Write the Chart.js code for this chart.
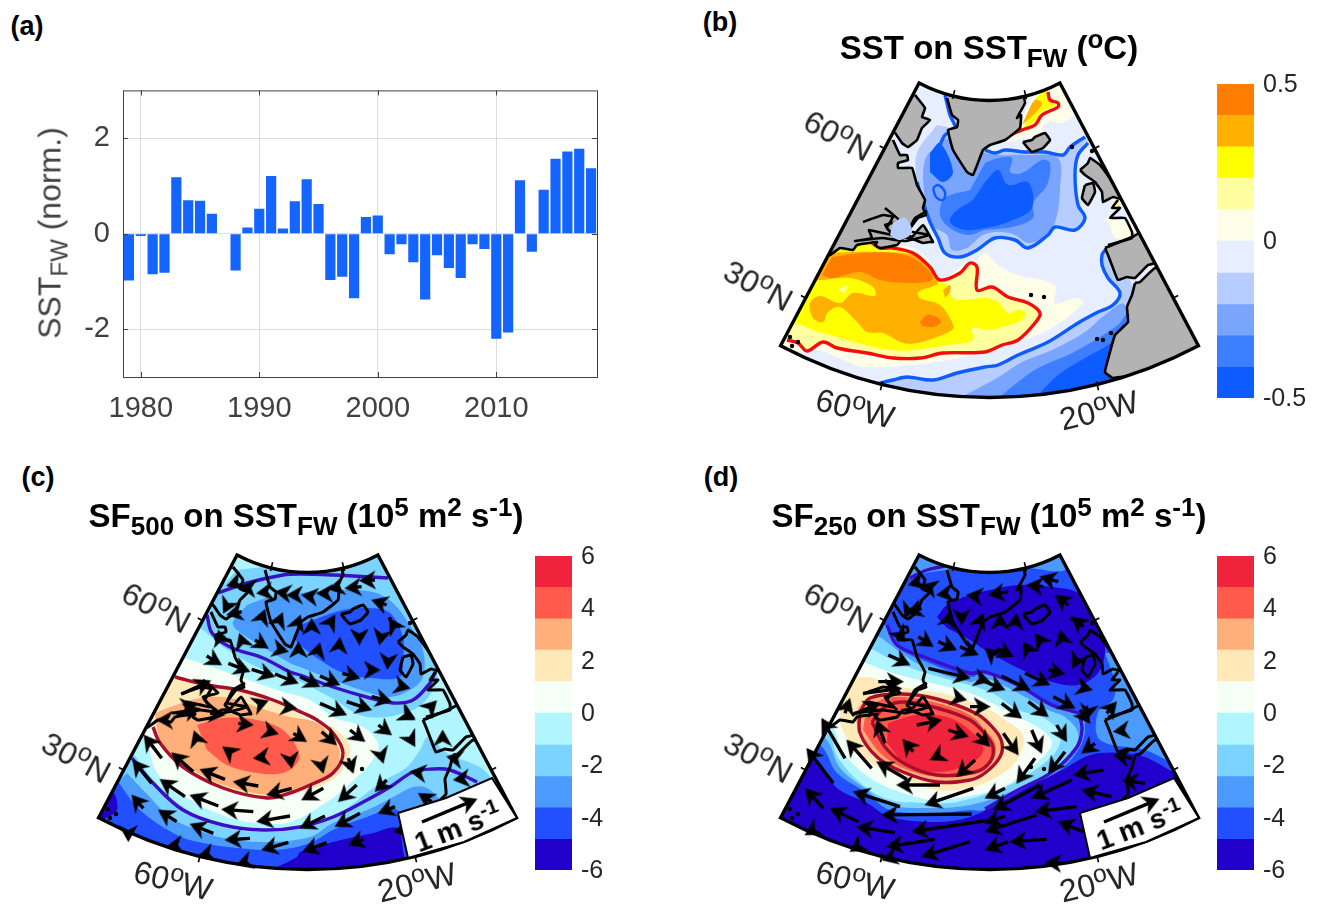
<!DOCTYPE html>
<html lang="en">
<head>
<meta charset="UTF-8">
<title>SST fingerprint</title>
<script src="https://cdn.jsdelivr.net/npm/chart.js"></script>
<style>
  body { margin: 0; background: #fff; font-family: "Liberation Sans", Arial, sans-serif; }
  #page { position: relative; width: 1319px; height: 912px; overflow: hidden; }
  canvas { position: absolute; }
  .txt { position: absolute; white-space: nowrap; color: #000; transform: translate(-50%, -50%); }
  .panel { font-weight: bold; font-size: 27px; }
  .title { font-weight: bold; font-size: 33px; }
  .title sub { font-size: 26px; vertical-align: -8px; line-height: 0; }
  .title sup { font-size: 26px; vertical-align: 11px; line-height: 0; }
  .maplab { font-size: 32px; color: #262626; }
  .maplab sup { font-size: 25px; vertical-align: 11px; line-height: 0; }
  .scale { font-weight: bold; font-size: 28px; }
  .scale sup { font-size: 21px; vertical-align: 10px; line-height: 0; }
  .ylab { font-size: 32px; color: #404040; }
  .ylab sub { font-size: 24px; vertical-align: -7px; line-height: 0; }
</style>
</head>
<body>
<div id="page"></div>
<script>
// ---- panel (a) ----
var years = [1979,1980,1981,1982,1983,1984,1985,1986,1987,1988,1989,1990,1991,1992,1993,1994,1995,1996,1997,1998,
             1999,2000,2001,2002,2003,2004,2005,2006,2007,2008,2009,2010,2011,2012,2013,2014,2015,2016,2017,2018];
var sstFw = [-0.98,-0.05,-0.85,-0.82,1.18,0.70,0.69,0.42,0,-0.77,0.13,0.52,1.21,0.11,0.68,1.14,0.62,-0.97,-0.90,-1.35,
             0.35,0.38,-0.43,-0.22,-0.60,-1.38,-0.45,-0.72,-0.93,-0.22,-0.32,-2.20,-2.07,1.12,-0.38,0.92,1.57,1.72,1.78,1.37];
var sstTicks = [-2, 0, 2];

// ---- colour bars ----
var sstColors = ['#0d5cff','#3d7dff','#7aa5ff','#b7cdff','#e6eeff','#fdfde8','#ffffa0','#ffff00','#ffb000','#ff7d00'];
var sstBarTicks = [-0.5, 0, 0.5];
var sfColors = ['#2200cc','#2350ff','#4b9bff','#7bd3ff','#b0f5ff','#f5fff5','#ffe9b8','#ffb07a','#ff5a4b','#f0233c'];
var sfBarTicks = [-6, -4, -2, 0, 2, 4, 6];

// ---- map frame, all map data below is in the same projected units ----
var mapApex = [989.5, -50.5];
var mapR = [151, 448];
var mapHalfAngle = 27.8;
var latTickR = [225, 394];      // 60N, 30N
var lonTickA = [-13.9, 13.9];   // 60W, 20W

// ---- coast and land ----
var greenland = [[947,98],[952,115],[958,120],[957,127],[948,130],[953,150],[967,172],[973,175],[983,150],[990,145],[1005,140],[1020,128],[1021,115],[1017,118],[1025,103],[1023,92],[1023,80],[990,60],[947,70]];
var baffin = [[915,95],[925,108],[922,117],[930,120],[922,128],[917,140],[908,147],[902,143],[895,133],[870,120],[900,70]];
var canada = [[893,140],[900,155],[907,155],[908,160],[898,163],[898,168],[912,168],[917,185],[925,200],[923,208],[926,215],[918,218],[907,233],[912,237],[923,225],[933,242],[930,242],[923,243],[910,238],[903,238],[897,245],[880,248],[875,245],[877,242],[857,245],[853,250],[840,248],[830,255],[800,260],[860,130]];
var hudson = [[863,222],[883,215],[893,217],[887,228],[897,238]];
var gulfCoast = [[885,208],[900,221],[885,225],[892,235],[869,230],[872,238],[855,241],[882,238],[905,241],[929,235],[909,231],[915,218],[927,211]];
var iceland = [[1023,142],[1032,140],[1035,137],[1045,133],[1050,140],[1043,148],[1032,152],[1027,147],[1023,142]];
var ireland = [[1085,185],[1093,183],[1095,192],[1088,205],[1082,198],[1085,185]];
var britain = [[1080,170],[1088,163],[1090,158],[1100,165],[1125,200],[1113,197],[1103,202],[1102,192],[1095,182],[1085,175],[1080,170]];
var france = [[1118,200],[1112,208],[1120,208],[1110,218],[1125,218],[1132,232],[1132,238],[1108,245]];
var iberia = [[1105,248],[1132,237],[1142,232],[1158,262],[1148,265],[1135,278],[1127,277],[1118,280],[1113,268],[1108,255],[1105,248]];
var africa = [[1135,283],[1132,295],[1127,307],[1128,322],[1115,335],[1110,352],[1105,372],[1113,378],[1210,360],[1175,275],[1155,268],[1140,282],[1135,283]];
var islands = [[1031,295],[1044,297],[1097,339],[1103,340],[1111,333],[1072,147],[1092,151],[790,337],[798,342],[792,346]];

// ---- SST on SST_FW ----
var sstLightWest = [[937,125],[917,153],[917,182],[923,202],[930,222],[938,238],[945,253],[960,257],[977,250],[990,238],[1015,240],[1028,248],[1048,235],[1055,227],[1075,230],[1085,218],[1078,205],[1075,175],[1078,155],[1088,143],[1085,137],[1070,147],[1063,155],[1045,152],[1025,152],[1005,150],[995,153],[985,150],[975,140],[960,130]];
var sstMidWest = [[943,140],[925,160],[925,200],[932,225],[947,235],[952,250],[967,248],[983,235],[1000,232],[1015,235],[1028,243],[1042,238],[1055,222],[1060,190],[1058,158],[1025,155],[1002,155],[985,153],[975,145],[960,135]];
var sstDeepWest = [[985,163],[998,158],[1012,158],[1010,172],[1022,173],[1042,160],[1050,163],[1047,185],[1033,203],[1033,218],[1012,227],[985,230],[968,235],[950,228],[940,215],[945,198],[970,190]];
var sstCoreWest = [[985,182],[998,170],[1008,185],[1028,182],[1032,208],[1008,222],[985,228],[965,230],[950,222],[955,212],[973,200]];
var sstLabrador = [[930,153],[940,143],[953,172],[943,182],[930,172]];
var sstGulf = [[893,222],[905,218],[912,232],[900,240],[890,235]];
var sstRing = [[933,188],[938,185],[945,192],[943,200],[936,197],[933,188]];
var sstWestCoast = [[945,95],[950,115],[955,128],[945,135],[938,150]];
var sstLightSouth = [[873,385],[893,380],[907,377],[933,380],[957,373],[985,367],[998,365],[1018,355],[1048,342],[1078,323],[1098,312],[1113,305],[1120,293],[1108,278],[1102,265],[1102,255],[1105,250],[1130,280],[1160,400],[1100,425],[860,425]];
var sstMidSouth = [[965,395],[990,382],[1002,375],[1022,362],[1052,350],[1085,332],[1105,315],[1125,305],[1160,400],[965,425]];
var sstDeepSouth = [[1002,395],[1018,382],[1038,368],[1068,355],[1092,342],[1118,325],[1128,315],[1160,400],[1002,425]];
var sstCoreSouth = [[1038,395],[1058,375],[1085,358],[1112,342],[1125,325],[1160,400],[1038,425]];
var sstPale = [[860,367],[890,367],[937,362],[985,352],[1018,342],[1052,328],[1083,303],[1078,298],[1055,303],[1055,285],[1018,275],[998,265],[985,253],[977,260],[967,262],[947,277],[940,278],[933,265],[920,252],[903,245],[880,247],[853,245],[837,248],[828,253],[765,340],[790,350],[820,350]];
var sstPaleNorth = [[1005,143],[1018,128],[1028,105],[1035,95],[1060,83],[1075,112],[1062,123],[1050,122],[1042,128],[1048,138],[1025,138]];
var sstPaleEurope = [[1105,218],[1132,223],[1133,235],[1125,238],[1115,238],[1110,225]];
var sstLemonEurope = [[1112,203],[1120,200],[1118,208],[1110,210]];
var sstRed = [[787,340],[798,343],[807,351],[823,342],[837,348],[867,353],[893,358],[920,358],[943,353],[985,352],[1002,345],[1018,340],[1035,323],[1040,313],[1028,303],[1008,297],[995,288],[990,287],[977,290],[977,267],[970,263],[960,273],[940,280],[930,267],[913,253],[893,248],[880,248],[872,243]];
var sstLemon = sstRed.concat([[855,243],[837,248],[827,252],[770,330]]);
var sstYellow = [[797,323],[813,330],[837,337],[857,343],[890,350],[913,350],[947,345],[973,340],[972,328],[990,330],[1002,327],[1022,320],[1025,313],[1018,310],[1008,313],[998,302],[985,298],[960,300],[952,297],[947,285],[940,282],[930,268],[913,253],[893,250],[880,250],[870,242],[855,243],[837,248],[827,252],[770,340]];
var sstAmber = [[828,253],[853,252],[880,252],[913,255],[930,268],[938,283],[918,292],[920,298],[940,305],[952,322],[953,329],[937,337],[917,343],[903,343],[883,333],[867,332],[858,323],[840,307],[828,312],[823,322],[813,318],[810,303],[820,296],[840,303],[853,293],[875,296],[873,287],[850,278],[813,280],[820,272]];
var sstOrange = [[832,257],[863,253],[893,253],[913,258],[930,272],[932,280],[910,283],[880,280],[860,272],[833,278],[822,275]];
var sstOrangeBlob = [[920,322],[927,315],[937,317],[941,322],[933,327],[922,326]];
var sstLemonPatch = [[838,290],[848,285],[845,293]];
var sstAmberPatch = [[943,290],[950,285],[950,292],[945,298]];
var sstRedNorth = [[1005,137],[1022,130],[1035,125],[1042,115],[1058,107],[1058,103],[1050,100],[1048,92]];
var sstYellowNorth = [[1010,135],[1025,125],[1035,100],[1047,90],[1049,100],[1055,105],[1042,112],[1034,122],[1020,130]];
var sstAmberNorth = [[1022,125],[1028,112],[1035,100],[1042,103],[1038,110],[1030,118]];
var sstBlueLine1 = [[985,150],[995,153],[1005,150],[1025,152],[1045,152],[1063,155],[1070,147],[1085,137]];
var sstBlueLine2 = [[1088,143],[1078,155],[1075,175],[1078,205],[1085,218],[1075,230],[1055,227],[1048,235],[1028,248],[1015,240],[995,238],[977,250],[960,257],[945,253],[938,238],[930,222],[923,202],[917,182]];
var sstBlueLine3 = [[873,385],[893,380],[907,377],[933,380],[957,373],[985,367],[998,365],[1018,355],[1048,342],[1078,323],[1098,312],[1113,305],[1120,293],[1108,278],[1102,265],[1102,255],[1105,250]];

// ---- SF500 on SST_FW ----
var c500Sky = [[919,98],[952,95],[982,98],[1015,90],[1045,86],[1062,80],[1090,130],[1119,201],[1113,221],[1095,238],[1049,245],[1012,225],[972,205],[939,195],[905,175],[885,158],[870,150]];
var c500Mid = [[929,133],[915,150],[919,158],[945,175],[972,191],[982,195],[1015,208],[1052,221],[1072,225],[1092,218],[1105,205],[1105,178],[1095,158],[1075,131],[1055,120],[1025,118],[982,121],[950,125]];
var c500Royal = [[982,153],[1025,138],[1052,136],[1072,141],[1085,165],[1085,188],[1082,205],[1052,206],[1025,201],[1002,188],[982,173],[975,165]];
var c500White = [[867,186],[889,193],[922,205],[959,218],[992,228],[1015,245],[1045,255],[1060,271],[1057,285],[1039,305],[1012,328],[972,350],[939,351],[909,345],[869,326],[839,301],[825,263],[790,250]];
var c500Cream = [[857,203],[889,213],[922,218],[955,228],[992,248],[1015,255],[1032,275],[1025,298],[1005,313],[972,323],[945,326],[905,316],[865,295],[842,271],[835,251],[835,238],[810,235]];
var c500Salmon = [[852,235],[882,226],[912,226],[939,235],[972,245],[999,251],[1015,268],[1022,281],[1014,301],[992,315],[972,320],[949,323],[905,313],[872,296],[845,275],[839,255],[837,241]];
var c500Orange = [[879,253],[905,246],[939,248],[965,258],[980,278],[980,290],[965,301],[939,301],[909,293],[889,278]];
var c500SkySouth = [[815,281],[835,308],[865,335],[905,355],[945,360],[992,355],[1022,341],[1062,311],[1089,295],[1102,278],[1110,265],[1129,281],[1169,301],[1180,340],[1100,425],[800,425],[770,340]];
var c500MidSouth = [[809,301],[825,318],[852,345],[872,355],[905,366],[945,370],[992,365],[1015,351],[1049,338],[1079,323],[1095,315],[1109,316],[1122,328],[1200,425],[800,425],[770,340]];
var c500RoyalSouth = [[799,308],[822,338],[859,363],[885,371],[919,376],[959,378],[992,371],[1015,358],[1049,345],[1079,338],[1150,400],[1100,425],[800,425],[770,340]];
var c500DarkSouth = [[959,395],[979,385],[982,380],[1015,370],[1055,361],[1079,356],[1085,378],[1090,425],[950,425]];
var c500DarkCorner = [[780,345],[795,321],[799,338],[785,348]];
var c500Red = [[857,205],[889,213],[922,218],[955,228],[985,241],[999,248],[1015,261],[1025,281],[1015,301],[992,313],[972,321],[949,326],[905,316],[865,295],[842,271],[835,255]];
var c500Blue1 = [[900,121],[929,111],[965,103],[982,102],[1015,103],[1070,106]];
var c500Blue2 = [[889,143],[894,161],[912,175],[945,186],[972,200],[982,203],[1015,215],[1052,226],[1075,231],[1095,228],[1112,211],[1117,200]];
var c500Blue3 = [[814,286],[835,311],[865,338],[905,353],[945,358],[982,355],[1015,345],[1049,328],[1072,315],[1095,300],[1115,297],[1132,298],[1159,310]];

// ---- SF250 on SST_FW ----
var c250Royal = [[900,60],[1080,60],[1175,300],[1173,300],[1145,285],[1122,281],[1100,281],[1085,285],[1062,298],[1028,315],[1005,328],[970,345],[937,350],[890,345],[867,331],[837,316],[815,286],[760,260]];
var c250DarkNorth = [[937,145],[947,133],[970,123],[990,118],[1018,113],[1052,115],[1078,121],[1097,145],[1105,178],[1098,201],[1078,213],[1052,210],[1018,196],[985,178],[970,168],[947,156]];
var c250MidNw = [[918,82],[950,96],[925,101],[910,106],[900,100]];
var c250MidNe = [[1028,96],[1065,98],[1060,80],[1040,80]];
var c250MidEast = [[1105,181],[1115,211],[1113,228],[1098,240],[1100,268],[1145,278],[1170,290],[1190,300],[1140,180]];
var c250Mid = [[885,153],[897,175],[927,190],[970,205],[985,200],[1018,215],[1052,235],[1082,243],[1085,248],[1082,271],[1060,298],[1018,318],[985,338],[970,338],[937,341],[890,338],[867,321],[837,301],[820,273],[780,260],[870,150]];
var c250Sky = [[880,165],[920,193],[970,210],[985,206],[1018,221],[1048,238],[1065,245],[1078,261],[1073,278],[1048,301],[1008,321],[970,333],[933,336],[890,333],[867,318],[840,296],[825,266],[790,255],[860,160]];
var c250Cyan = [[870,176],[903,193],[943,206],[990,220],[1018,238],[1042,245],[1060,261],[1057,278],[1035,298],[1005,315],[957,330],[927,331],[890,328],[863,313],[838,286],[828,261],[800,250],[850,170]];
var c250White = [[863,190],[893,201],[927,210],[970,221],[1018,245],[1042,258],[1052,271],[1043,285],[1023,301],[1002,316],[937,328],[903,321],[870,306],[843,280],[833,256],[810,240],[850,185]];
var c250Cream = [[870,205],[903,215],[950,223],[990,238],[1005,248],[1022,261],[1023,275],[1013,293],[995,306],[970,316],[937,318],[903,306],[870,290],[850,271],[840,251],[840,241],[835,230],[845,205]];
var c250Salmon = [[858,235],[870,225],[903,221],[937,226],[977,241],[995,258],[1002,271],[1000,285],[985,301],[970,308],[937,310],[903,300],[877,285],[860,261],[855,245]];
var c250Orange = [[865,245],[880,228],[903,225],[937,231],[970,243],[985,258],[995,271],[995,283],[985,298],[970,303],[937,305],[903,296],[880,281],[863,258]];
var c250Crimson = [[888,251],[917,243],[950,246],[977,265],[983,280],[967,293],[937,300],[907,293],[887,271]];
var c250RedOuter = [[860,240],[870,226],[903,222],[937,227],[977,242],[995,258],[1002,271],[1000,285],[985,301],[970,308],[937,310],[903,300],[877,285],[860,261],[860,240]];
var c250RedInner = [[872,250],[885,235],[905,230],[937,236],[970,248],[985,262],[993,275],[990,290],[975,300],[937,303],[905,292],[885,275],[872,250]];
var c250Blue1 = [[910,106],[927,98],[945,94]];
var c250Blue2 = [[887,153],[897,173],[927,186],[970,201],[985,200],[1018,213],[1052,233],[1078,241],[1080,245],[1082,258],[1077,275],[1052,300],[1018,318],[985,337]];

var vecC_nw = [[450,95,410,108],[490,115,450,110],[535,125,500,130],[590,130,555,125],[630,135,590,135],[455,185,410,195],[410,170,400,190],[515,205,525,178],[565,218,578,188],[620,228,632,195],[395,275,385,240],[460,285,448,250],[495,270,535,295],[555,295,595,305],[625,312,625,275],[350,318,395,345],[415,340,480,365],[485,358,555,380],[555,372,625,400],[275,432,362,392],[500,465,535,452],[585,470,620,475],[285,470,320,465],[260,495,330,475]];
var vecC_ne = [[225,90,178,92],[185,110,135,115],[120,110,85,118],[80,130,50,130],[40,140,5,135],[260,165,215,150],[35,232,35,205],[85,228,105,195],[290,240,268,205],[50,315,60,278],[115,305,120,262],[178,248,178,285],[245,252,238,285],[265,325,262,358],[195,360,240,360],[127,370,180,385],[60,378,120,405],[0,380,60,410],[290,405,330,415],[215,440,275,455],[385,478,410,452],[310,490,345,505],[140,455,215,480],[60,460,140,495]];
var vecC_sw = [[215,145,162,75],[310,185,245,128],[405,208,330,178],[505,228,430,215],[605,235,530,255],[285,260,210,208],[385,288,300,255],[490,305,395,298],[600,318,500,335],[185,220,128,150],[160,295,125,255],[260,335,205,300],[370,370,300,342],[480,385,405,390],[595,397,515,420],[115,360,115,395],[265,405,230,410],[360,430,325,440],[470,455,440,465],[325,100,312,62],[445,40,490,45],[525,60,565,72],[610,70,650,95],[425,130,398,110],[530,140,490,145],[600,140,605,175],[240,30,200,30],[360,10,405,15]];
var vecC_se = [[65,65,110,105],[150,60,195,95],[235,45,275,75],[310,10,345,30],[325,75,345,110],[240,125,250,160],[60,150,70,190],[145,145,160,190],[428,90,428,60],[465,145,440,140],[370,190,330,185],[260,210,225,245],[170,225,115,275],[70,235,5,270],[180,310,105,350],[75,318,0,355],[285,290,235,310],[395,275,355,250],[500,205,460,210],[80,398,8,425],[190,388,145,405],[310,360,280,365]];
var vecD_nw = [[450,95,415,105],[490,115,455,105],[535,130,500,135],[630,140,590,135],[455,175,410,190],[420,170,405,205],[530,225,540,185],[575,190,575,225],[625,225,640,190],[385,245,405,275],[445,260,490,290],[505,275,560,300],[570,290,625,315],[355,315,420,345],[475,355,600,385],[625,385,660,395],[325,395,400,395],[280,430,395,415],[245,495,330,460],[550,440,590,450],[600,470,660,470],[225,490,240,445]];
var vecD_ne = [[220,95,165,80],[175,110,125,105],[70,125,10,135],[250,165,210,135],[295,230,260,200],[45,228,45,190],[90,225,95,190],[135,310,115,275],[175,285,150,250],[235,280,225,240],[35,295,85,320],[30,320,0,295],[280,322,262,355],[190,360,240,372],[120,370,195,405],[50,378,135,420],[0,395,60,420],[285,410,322,420],[205,440,270,475],[130,455,190,500],[50,460,110,505],[365,490,395,455],[310,480,305,510]];
var vecD_sw = [[225,145,155,25],[190,220,110,115],[345,100,320,30],[410,208,320,155],[305,175,230,90],[510,225,380,225],[610,235,465,285],[390,290,250,245],[265,335,180,295],[160,295,105,235],[375,368,260,350],[495,388,350,410],[600,395,455,440],[660,330,425,365],[605,312,335,315],[130,360,105,375],[270,405,240,425],[370,440,335,450],[440,45,515,30],[535,60,595,80],[620,70,660,110],[430,125,398,88],[520,130,480,150],[615,150,560,200]];
var vecD_se = [[55,70,100,135],[140,60,170,130],[215,45,245,95],[285,0,315,40],[330,100,290,130],[240,125,190,190],[150,145,95,220],[60,235,0,265],[260,210,140,265],[355,180,265,195],[165,225,25,300],[380,260,290,240],[480,220,410,210],[440,145,385,135],[425,60,385,65],[275,290,150,305],[60,318,0,340],[155,315,0,365],[295,365,220,335],[185,388,75,395],[70,395,0,420],[230,460,180,458]];
var scaleArrow = [[1104,350,1159,327]];
var scaleBox = [[1080,341],[1128,326],[1174,306],[1199,346],[1146,370],[1090,386],[1080,341]];

// convert a 3x tile reading to map units
function fromTile(list, ox, oy) {
    return list.map(function (v) {
        return [ox + v[0] / 3, oy + v[1] / 3, ox + v[2] / 3, oy + v[3] / 3];
    });
}

// ---- small helpers for datasets ----
function area(data, color, tension) {
    return { data: data, showLine: true, fill: 'shape', backgroundColor: color, borderWidth: 0,
             pointRadius: 0, tension: tension === undefined ? 0.35 : tension };
}
function landArea(data) {
    return { data: data, showLine: true, fill: 'shape', backgroundColor: '#b3b3b3', borderColor: '#000',
             borderWidth: 2.6, pointRadius: 0, tension: 0.1 };
}
function line(data, color, width, tension) {
    return { data: data, showLine: true, fill: false, borderColor: color, borderWidth: width,
             pointRadius: 0, tension: tension === undefined ? 0.35 : tension };
}
function coastLines() {
    return [greenland, baffin, canada, hudson, gulfCoast, iceland, ireland, britain, france, iberia, africa].map(function (c) {
        return line(c, '#000', 3, 0.1);
    });
}
function dots() {
    return { data: islands, showLine: false, pointRadius: 2.2, pointBackgroundColor: '#000', pointBorderWidth: 0 };
}

// arrow head used as a point style
var headCanvas = document.createElement('canvas');
headCanvas.width = 19;
headCanvas.height = 17;
(function () {
    var g = headCanvas.getContext('2d');
    g.fillStyle = '#000';
    g.beginPath();
    g.moveTo(9.5, 0); g.lineTo(19, 17); g.lineTo(9.5, 12); g.lineTo(0, 17);
    g.closePath();
    g.fill();
})();

function arrowSets(vectors) {
    var shafts = [], heads = [], rots = [];
    vectors.forEach(function (v) {
        var dx = v[2] - v[0], dy = v[3] - v[1];
        var len = Math.sqrt(dx * dx + dy * dy);
        var ux = dx / len, uy = dy / len;
        if (len > 15) {
            shafts.push([v[0], v[1]], [v[2] - ux * 8, v[3] - uy * 8], [NaN, NaN]);
        }
        heads.push([v[2] - ux * 8, v[3] - uy * 8]);
        rots.push(Math.atan2(dy, dx) * 180 / Math.PI + 90);
    });
    return [
        { data: shafts, showLine: true, fill: false, borderColor: '#000', borderWidth: 3.4, pointRadius: 0, tension: 0, spanGaps: false },
        { data: heads, showLine: false, pointStyle: headCanvas, pointRotation: rots, pointRadius: 8 }
    ];
}

// plugin: clip contours to the sector, draw frame and ticks
var sectorPlugin = {
    id: 'sector',
    beforeDatasetsDraw: function (chart) {
        var s = sectorGeom(chart), ctx = chart.ctx;
        ctx.save();
        ctx.beginPath();
        ctx.arc(s.cx, s.cy, s.r1, s.a0, s.a1);
        ctx.arc(s.cx, s.cy, s.r0, s.a1, s.a0, true);
        ctx.closePath();
        ctx.clip();
    },
    afterDatasetsDraw: function (chart) {
        var s = sectorGeom(chart), ctx = chart.ctx;
        ctx.restore();
        ctx.strokeStyle = '#000';
        ctx.lineWidth = 3.4;
        ctx.lineJoin = 'miter';
        ctx.beginPath();
        ctx.arc(s.cx, s.cy, s.r1, s.a0, s.a1);
        ctx.arc(s.cx, s.cy, s.r0, s.a1, s.a0, true);
        ctx.closePath();
        ctx.stroke();
        ctx.lineWidth = 1.6;
        function seg(a, r0, r1) {
            var t = a * Math.PI / 180 ;
            ctx.beginPath();
            ctx.moveTo(s.cx + r0 * Math.sin(t), s.cy + r0 * Math.cos(t));
            ctx.lineTo(s.cx + r1 * Math.sin(t), s.cy + r1 * Math.cos(t));
            ctx.stroke();
        }
        lonTickA.forEach(function (a) {
            seg(a, s.r1 - 3, s.r1 + 6);
            seg(a, s.r0 - 6, s.r0 + 3);
        });
        latTickR.forEach(function (r) {
            [-mapHalfAngle, mapHalfAngle].forEach(function (a) {
                var t = a * Math.PI / 180, px = s.cx + r * Math.sin(t), py = s.cy + r * Math.cos(t);
                var sign = a < 0 ? -1 : 1;
                ctx.beginPath();
                ctx.moveTo(px, py);
                ctx.lineTo(px + sign * 5.5 * Math.cos(t), py - sign * 5.5 * Math.sin(t));
                ctx.stroke();
            });
        });
    }
};
function sectorGeom(chart) {
    var x = chart.scales.x, y = chart.scales.y;
    return {
        cx: x.getPixelForValue(mapApex[0]), cy: y.getPixelForValue(mapApex[1]),
        r0: mapR[0], r1: mapR[1],
        a0: (90 - mapHalfAngle) * Math.PI / 180, a1: (90 + mapHalfAngle) * Math.PI / 180
    };
}

var page = document.getElementById('page');
function newCanvas(left, top, w, h) {
    var c = document.createElement('canvas');
    c.width = w; c.height = h;
    c.style.left = left + 'px'; c.style.top = top + 'px';
    c.style.width = w + 'px'; c.style.height = h + 'px';
    page.appendChild(c);
    return c;
}

// datasets are drawn last-to-first, so the list is reversed here
function mapChart(left, top, layers, plugins) {
    var c = newCanvas(left, top, 440, 360);
    return new Chart(c.getContext('2d'), {
        type: 'scatter',
        data: { datasets: layers.slice().reverse() },
        options: {
            responsive: false, animation: false, events: [],
            layout: { padding: 0, autoPadding: false },
            plugins: { legend: { display: false }, tooltip: { enabled: false } },
            scales: {
                x: { type: 'linear', display: false, min: 770, max: 1210 },
                y: { type: 'linear', display: false, min: 70, max: 430, reverse: true }
            }
        },
        plugins: plugins
    });
}

function colorBar(left, top, height, colors, ticks, maxVal, fmt) {
    var c = newCanvas(left, top - 32, 100, height + 64);
    var half = colors.length / 2, step = maxVal / half;
    var sets = colors.map(function (col, i) {
        return { data: [i < half ? -step : step], backgroundColor: col, borderWidth: 0, stack: 'bar',
                 barPercentage: 1, categoryPercentage: 1 };
    });
    // negative cells stack downward from zero, so the order of those is reversed
    var neg = sets.slice(0, half).reverse();
    var pos = sets.slice(half);
    new Chart(c.getContext('2d'), {
        type: 'bar',
        data: { labels: [''], datasets: neg.concat(pos) },
        options: {
            responsive: false, animation: false, events: [],
            layout: { padding: { top: 32, bottom: 32 }, autoPadding: false },
            plugins: { legend: { display: false }, tooltip: { enabled: false } },
            scales: {
                x: { display: false, stacked: true },
                y: {
                    position: 'right', stacked: true, min: -maxVal, max: maxVal,
                    afterBuildTicks: function (s) { s.ticks = ticks.map(function (v) { return { value: v }; }); },
                    afterFit: function (s) { s.width = 63; },
                    grid: { display: false, drawTicks: false },
                    border: { display: false },
                    ticks: { color: '#262626', padding: 9, labelOffset: 1, font: { family: 'Liberation Sans', size: 25 },
                             callback: function (v) { return fmt(v); } }
                }
            }
        }
    });
}

// ---- panel (a) chart ----
var framePlugin = {
    id: 'frame',
    afterDraw: function (chart) {
        var a = chart.chartArea, ctx = chart.ctx, y = chart.scales.y, x = chart.scales.x;
        ctx.save();
        ctx.strokeStyle = '#404040';
        ctx.lineWidth = 1;
        ctx.strokeRect(a.left + 0.5, a.top + 0.5, a.width, a.height);
        sstTicks.forEach(function (v) {
            var p = Math.round(y.getPixelForValue(v)) + 0.5;
            ctx.beginPath(); ctx.moveTo(a.left, p); ctx.lineTo(a.left + 5, p); ctx.moveTo(a.right, p); ctx.lineTo(a.right - 5, p); ctx.stroke();
        });
        years.forEach(function (yr, i) {
            if (yr % 10) return;
            var p = Math.round(x.getPixelForTick(i)) + 0.5;
            ctx.beginPath(); ctx.moveTo(p, a.bottom); ctx.lineTo(p, a.bottom - 5); ctx.moveTo(p, a.top); ctx.lineTo(p, a.top + 5); ctx.stroke();
        });
        ctx.restore();
    }
};
new Chart(newCanvas(0, 60, 620, 370).getContext('2d'), {
    type: 'bar',
    data: { labels: years, datasets: [{ data: sstFw, backgroundColor: '#1464ff', barPercentage: 0.86, categoryPercentage: 1 }] },
    options: {
        responsive: false, animation: false, events: [],
        layout: { padding: { top: 30, right: 23 } },
        plugins: { legend: { display: false }, tooltip: { enabled: false } },
        scales: {
            x: {
                afterFit: function (s) { s.height = 53; },
                grid: { offset: false, drawTicks: false,
                        color: function (c) { return c.tick && years[c.tick.value] % 10 === 0 ? '#dcdcdc' : 'transparent'; } },
                border: { display: false },
                ticks: { autoSkip: false, maxRotation: 0, color: '#404040', padding: 15, font: { family: 'Liberation Sans', size: 29 },
                         callback: function (v) { return years[v] % 10 === 0 ? String(years[v]) : ''; } }
            },
            y: {
                min: -3, max: 3,
                afterBuildTicks: function (s) { s.ticks = sstTicks.map(function (v) { return { value: v }; }); },
                afterFit: function (s) { s.width = 123; },
                grid: { color: '#dcdcdc', drawTicks: false },
                border: { display: false },
                ticks: { color: '#404040', padding: 13, font: { family: 'Liberation Sans', size: 29 } }
            }
        }
    },
    plugins: [framePlugin]
});

// ---- panel (b) ----
var layersB = [
    area([[760,60],[1210,60],[1210,430],[760,430]], sstColors[4], 0),
    area(sstPale, sstColors[5]), area(sstPaleNorth, sstColors[5]), area(sstPaleEurope, sstColors[5]),
    area(sstLemonEurope, sstColors[6]),
    area(sstLemon, sstColors[6]), area(sstYellow, sstColors[7]), area(sstAmber, sstColors[8]),
    area(sstOrange, sstColors[9]), area(sstOrangeBlob, sstColors[9]), area(sstLemonPatch, sstColors[6]), area(sstAmberPatch, sstColors[8]),
    area(sstYellowNorth, sstColors[7]), area(sstAmberNorth, sstColors[8]),
    area(sstLightSouth, sstColors[3]), area(sstMidSouth, sstColors[2]), area(sstDeepSouth, sstColors[1]), area(sstCoreSouth, sstColors[0]),
    area(sstLightWest, sstColors[3]), area(sstMidWest, sstColors[2]), area(sstDeepWest, sstColors[1]), area(sstCoreWest, sstColors[0]),
    area(sstLabrador, sstColors[0]), area(sstGulf, sstColors[3]),
    line(sstRing, '#0d5cff', 2.5), line(sstRed, '#f50d0d', 3.4), line(sstRedNorth, '#f50d0d', 3.4),
    line(sstBlueLine1, '#0d5cff', 3.4), line(sstBlueLine2, '#0d5cff', 3.4), line(sstBlueLine3, '#0d5cff', 3.4), line(sstWestCoast, '#0d5cff', 3.4),
    landArea(greenland), landArea(baffin), landArea(canada), line(hudson, '#000', 2.6, 0.1), line(gulfCoast, '#000', 2.6, 0.1),
    area(sstGulf, sstColors[3]),
    landArea(iceland), landArea(ireland), landArea(britain), landArea(iberia), landArea(africa), line(france, '#000', 2.6, 0.1),
    dots()
];
mapChart(770, 70, layersB, [sectorPlugin]);

// ---- panel (c) ----
var layersC = [
    area([[760,60],[1210,60],[1210,430],[760,430]], sfColors[4], 0),
    area(c500Sky, sfColors[3]), area(c500Mid, sfColors[2]), area(c500Royal, sfColors[1]),
    area(c500SkySouth, sfColors[3]), area(c500MidSouth, sfColors[2]), area(c500RoyalSouth, sfColors[1]),
    area(c500DarkSouth, sfColors[0]), area(c500DarkCorner, sfColors[0]),
    area(c500White, sfColors[5]), area(c500Cream, sfColors[6]), area(c500Salmon, sfColors[7]), area(c500Orange, sfColors[8]),
    line(c500Red, '#a80f2c', 3.4), line(c500Blue1, '#3a0fc8', 3.4), line(c500Blue2, '#3a0fc8', 3.4), line(c500Blue3, '#3a0fc8', 3.4)
].concat(coastLines()).concat([dots()]);
mapChart(88, 542, layersC, [sectorPlugin]);
var arrowsC = [].concat(fromTile(vecC_nw, 772, 78), fromTile(vecC_ne, 982, 78), fromTile(vecC_sw, 772, 238), fromTile(vecC_se, 982, 238));
mapChart(88, 542, arrowSets(arrowsC).concat([
    area(scaleBox, '#fff', 0), line(scaleBox, '#000', 2, 0)
]).concat(arrowSets(scaleArrow)), []);

// ---- panel (d) ----
var layersD = [
    area([[760,60],[1210,60],[1210,430],[760,430]], sfColors[0], 0),
    area(c250Royal, sfColors[1]), area(c250DarkNorth, sfColors[0]),
    area(c250MidNw, sfColors[2]), area(c250MidNe, sfColors[2]), area(c250MidEast, sfColors[2]),
    area(c250Mid, sfColors[2]), area(c250Sky, sfColors[3]), area(c250Cyan, sfColors[4]), area(c250White, sfColors[5]),
    area(c250Cream, sfColors[6]), area(c250Salmon, sfColors[7]), area(c250Orange, sfColors[8]), area(c250Crimson, sfColors[9]),
    line(c250RedOuter, '#a80f2c', 3.4), line(c250RedInner, '#a80f2c', 3.4), line(c250Blue1, '#3a0fc8', 3.4), line(c250Blue2, '#3a0fc8', 3.4)
].concat(coastLines()).concat([dots()]);
mapChart(770, 542, layersD, [sectorPlugin]);
var arrowsD = [].concat(fromTile(vecD_nw, 770, 78), fromTile(vecD_ne, 985, 78), fromTile(vecD_sw, 770, 238), fromTile(vecD_se, 985, 238));
mapChart(770, 542, arrowSets(arrowsD).concat([
    area(scaleBox, '#fff', 0), line(scaleBox, '#000', 2, 0)
]).concat(arrowSets(scaleArrow)), []);

// ---- colour bars ----
colorBar(1217, 84, 314, sstColors, sstBarTicks, 0.5, function (v) { return String(v); });
colorBar(535, 556, 314, sfColors, sfBarTicks, 6, function (v) { return String(v); });
colorBar(1217, 556, 314, sfColors, sfBarTicks, 6, function (v) { return String(v); });

// ---- text ----
function addText(cls, html, x, y, rot) {
    var d = document.createElement('div');
    d.className = 'txt ' + cls;
    d.innerHTML = html;
    d.style.left = x + 'px';
    d.style.top = y + 'px';
    if (rot) d.style.transform = 'translate(-50%, -50%) rotate(' + rot + 'deg)';
    page.appendChild(d);
}
addText('panel', '(a)', 27, 26);
addText('panel', '(b)', 720, 22);
addText('panel', '(c)', 38, 477);
addText('panel', '(d)', 721, 477);
addText('ylab', 'SST<sub>FW</sub> (norm.)', 50, 233, -90);
addText('title', 'SST on SST<sub>FW</sub> (<sup>o</sup>C)', 989, 48);
addText('title', 'SF<sub>500</sub> on SST<sub>FW</sub> (10<sup>5</sup> m<sup>2</sup> s<sup>-1</sup>)', 306, 516);
addText('title', 'SF<sub>250</sub> on SST<sub>FW</sub> (10<sup>5</sup> m<sup>2</sup> s<sup>-1</sup>)', 989, 516);
[[0, 0], [-682, 472], [0, 472]].forEach(function (o) {
    addText('maplab', '60<sup>o</sup>N', 838 + o[0], 136 + o[1], 28);
    addText('maplab', '30<sup>o</sup>N', 758 + o[0], 286 + o[1], 28);
    addText('maplab', '60<sup>o</sup>W', 855 + o[0], 409 + o[1], 14);
    addText('maplab', '20<sup>o</sup>W', 1099 + o[0], 411 + o[1], -14);
});
addText('scale', '1 m s<sup>-1</sup>', 458, 828, -21);
addText('scale', '1 m s<sup>-1</sup>', 1140, 826, -21);
</script>
</body>
</html>
